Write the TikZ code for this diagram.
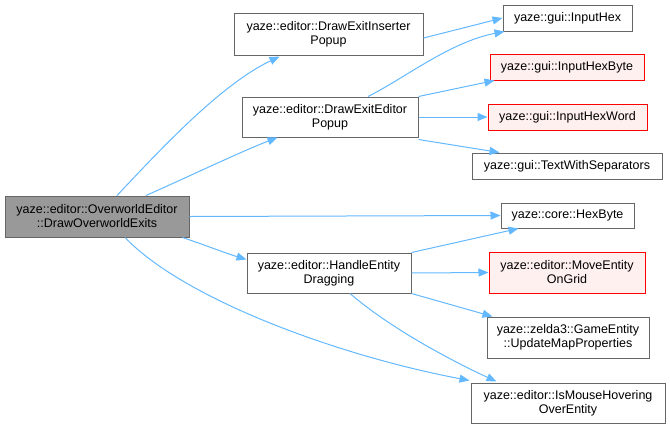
\documentclass[tikz,border=0pt]{standalone}
\usepackage{fontspec}
\setmainfont{Liberation Sans}
\usetikzlibrary{arrows.meta}
\definecolor{edgeblue}{HTML}{63B8FF}
\definecolor{boxgray}{HTML}{666666}
\definecolor{mainfill}{HTML}{999999}
\definecolor{redfill}{HTML}{FFF0F0}
\tikzset{
  fn/.style={draw=boxgray, fill=white, line width=1pt, inner sep=0pt, align=center,
    font=\fontsize{12.5}{14}\selectfont, anchor=center},
  mainfn/.style={fn, fill=mainfill},
  redfn/.style={fn, draw=red, fill=redfill},
  edge/.style={draw=edgeblue, line width=1pt, -{Triangle[length=10pt,width=8pt]}},
}
\begin{document}
\begin{tikzpicture}[x=1pt,y=-1pt]
\useasboundingbox (0,0) rectangle (670,429);
\node[mainfn, minimum width=184pt, minimum height=41pt] (main) at (97,216.5) {yaze::editor::OverworldEditor\\::DrawOverworldExits};
\node[fn, minimum width=189pt, minimum height=42pt] (ins) at (328.5,34) {yaze::editor::DrawExitInserter\\Popup};
\node[fn, minimum width=176pt, minimum height=40pt] (ed) at (330,117) {yaze::editor::DrawExitEditor\\Popup};
\node[fn, minimum width=164pt, minimum height=40pt] (he) at (329,273) {yaze::editor::HandleEntity\\Dragging};
\node[fn, minimum width=129pt, minimum height=26pt] (ih) at (567.5,18) {yaze::gui::InputHex};
\node[redfn, minimum width=154pt, minimum height=26pt] (ihb) at (567,67) {yaze::gui::InputHexByte};
\node[redfn, minimum width=159pt, minimum height=26pt] (ihw) at (567.5,117) {yaze::gui::InputHexWord};
\node[fn, minimum width=190pt, minimum height=26pt] (tws) at (567,166) {yaze::gui::TextWithSeparators};
\node[fn, minimum width=133pt, minimum height=25pt] (hb) at (567.5,215.5) {yaze::core::HexByte};
\node[redfn, minimum width=156pt, minimum height=41pt] (mv) at (567,272.5) {yaze::editor::MoveEntity\\OnGrid};
\node[fn, minimum width=162pt, minimum height=41pt] (ge) at (568,337.5) {yaze::zelda3::GameEntity\\::UpdateMapProperties};
\node[fn, minimum width=194pt, minimum height=40pt] (im) at (568,403) {yaze::editor::IsMouseHovering\\OverEntity};

\draw[edge] ([xshift=20pt]main.north) .. controls (160,150) and (220,85) .. ([xshift=46pt,yshift=-1pt]ins.south west);
\draw[edge] ([xshift=49pt]main.north) .. controls (190,176) and (240,152) .. ([xshift=36pt]ed.south west);
\draw[edge] (main.east) -- (hb.west);
\draw[edge] ([xshift=-7pt]main.south east) .. controls (205,245) and (225,253) .. ([yshift=-7pt]he.north west);
\draw[edge] ([xshift=28pt]main.south) .. controls (185,300) and (340,356) .. ([xshift=-1pt,yshift=2pt]im.north west);
\draw[edge] ([yshift=-4pt]ins.east) -- (ih.west);
\draw[edge] ([xshift=38pt]ed.north) .. controls (405,78) and (450,42) .. ([xshift=2pt]ih.south west);
\draw[edge] (ed.north east) -- ([xshift=5pt]ihb.south west);
\draw[edge] (ed.east) -- (ihw.west);
\draw[edge] ([yshift=-2pt]ed.south east) -- ([xshift=28pt]tws.north west);
\draw[edge] (he.north east) -- ([xshift=18pt]hb.south west);
\draw[edge] (he.east) -- (mv.west);
\draw[edge] (he.south east) -- ([xshift=6pt]ge.north west);
\draw[edge] ([xshift=21pt]he.south) .. controls (390,328) and (450,360) .. ([xshift=26pt,yshift=1pt]im.north west);
\end{tikzpicture}
\end{document}
